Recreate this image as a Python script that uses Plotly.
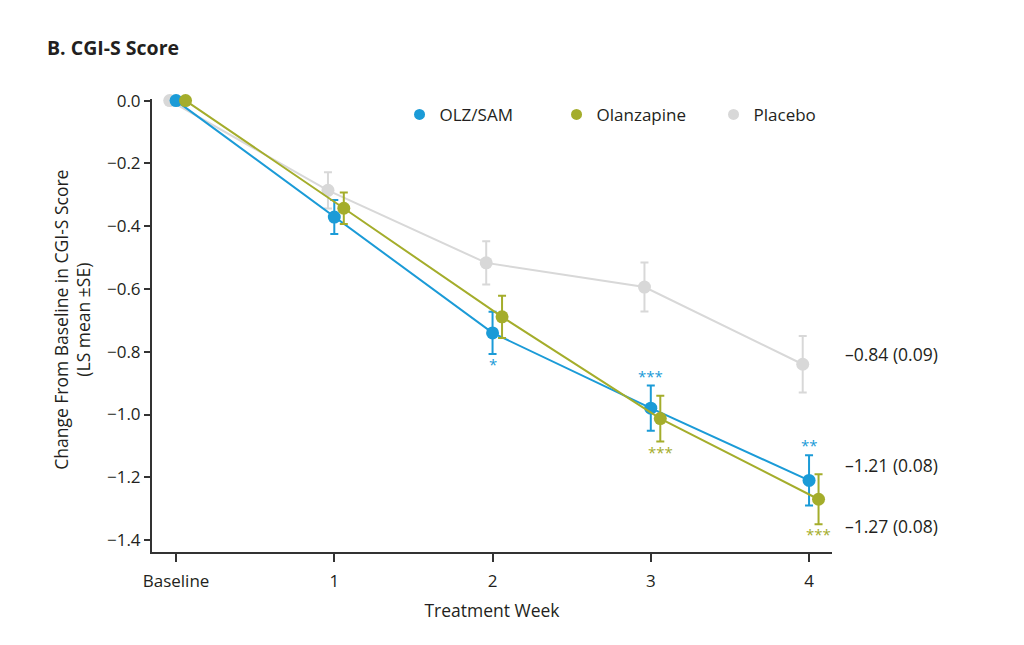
import plotly.graph_objects as go

# Data
weeks = [0, 1, 2, 3, 4]
week_labels = ["Baseline", "1", "2", "3", "4"]

olz_sam_mean = [0.0, -0.371, -0.740, -0.980, -1.21]
olz_sam_se = [0.0, 0.054, 0.067, 0.072, 0.08]

olanzapine_mean = [0.0, -0.343, -0.689, -1.013, -1.27]
olanzapine_se = [0.0, 0.050, 0.067, 0.073, 0.08]

placebo_mean = [0.0, -0.286, -0.517, -0.594, -0.84]
placebo_se = [0.0, 0.058, 0.069, 0.078, 0.09]

# significance markers: (week index, label, above/below)
olz_sam_sig = [(2, "*", "below"), (3, "***", "above"), (4, "**", "above")]
olanzapine_sig = [(3, "***", "below"), (4, "***", "below")]

BLUE = "#1b9bd7"
OLIVE = "#a4ad2b"
GREY = "#d8d8d8"
TEXT = "#231f20"
FONT = "Open Sans"

series = [
    # name, means, se, colour, x offset, legend rank
    ("Placebo", placebo_mean, placebo_se, GREY, -0.04, 3),
    ("OLZ/SAM", olz_sam_mean, olz_sam_se, BLUE, 0.0, 1),
    ("Olanzapine", olanzapine_mean, olanzapine_se, OLIVE, 0.06, 2),
]

fig = go.Figure()

for name, mean, se, color, off, rank in series:
    fig.add_trace(go.Scatter(
        x=[w + off for w in weeks],
        y=mean,
        mode="lines+markers",
        line=dict(color=color, width=2),
        marker=dict(color=color, size=13),
        error_y=dict(type="data", array=se, visible=True, color=color,
                     thickness=2, width=4),
        cliponaxis=False,
        showlegend=False,
        name=name,
    ))
    # dot-only legend entry
    fig.add_trace(go.Scatter(
        x=[None], y=[None], mode="markers",
        marker=dict(color=color, size=11),
        name=name, legendrank=rank,
    ))

annotations = []

# asterisks
for sig, mean, se, color, off in [
    (olz_sam_sig, olz_sam_mean, olz_sam_se, BLUE, 0.0),
    (olanzapine_sig, olanzapine_mean, olanzapine_se, OLIVE, 0.06),
]:
    for i, label, pos in sig:
        if pos == "above":
            y = mean[i] + se[i]
            shift = 10
        else:
            y = mean[i] - se[i]
            shift = -10
        annotations.append(dict(
            x=weeks[i] + off, y=y, text=label, showarrow=False,
            xanchor="center", yanchor="middle", yshift=shift,
            font=dict(family=FONT, size=15, color=color),
        ))

# end-of-line value labels
end_label_y = [-0.806, -1.162, -1.356]
for (mean, se), ly in zip(
    [(placebo_mean, placebo_se), (olz_sam_mean, olz_sam_se),
     (olanzapine_mean, olanzapine_se)], end_label_y):
    annotations.append(dict(
        xref="paper", x=1.0156, y=ly, yref="y",
        text=f"\u2013{abs(mean[-1]):.2f} ({se[-1]:.2f})",
        showarrow=False, xanchor="left", yanchor="middle",
        font=dict(family=FONT, size=17.5, color=TEXT),
    ))

# y-axis title
annotations.append(dict(
    xref="paper", yref="paper", x=-0.118, y=0.512,
    text="Change From Baseline in CGI-S Score<br>(LS mean \u00b1SE)",
    showarrow=False, textangle=-90, xanchor="center", yanchor="middle",
    font=dict(family=FONT, size=17.5, color=TEXT),
))

# panel title
annotations.append(dict(
    xref="paper", yref="paper", x=-0.157, y=1.113,
    text="<b>B. CGI-S Score</b>", showarrow=False,
    xanchor="left", yanchor="middle",
    font=dict(family=FONT, size=19.5, color=TEXT),
))

fig.update_layout(
    width=1024, height=645,
    margin=dict(l=144, r=200, t=91, b=101),
    paper_bgcolor="white", plot_bgcolor="white",
    font=dict(family=FONT, size=17, color=TEXT),
    annotations=annotations,
    legend=dict(
        orientation="h", x=0.364, xanchor="left", y=0.965, yanchor="middle",
        entrywidth=112, entrywidthmode="pixels",
        font=dict(family=FONT, size=17, color=TEXT),
        bgcolor="rgba(0,0,0,0)",
    ),
)

fig.update_xaxes(
    range=[-0.152, 4.145],
    tickvals=weeks, ticktext=week_labels,
    showgrid=False, zeroline=False,
    showline=True, linecolor="#333333", linewidth=2,
    ticks="outside", ticklen=8, tickwidth=2, tickcolor="#333333",
    ticklabelstandoff=5,
    tickfont=dict(family=FONT, size=17, color=TEXT),
    title=dict(text="Treatment Week", standoff=13,
               font=dict(family=FONT, size=17.5, color=TEXT)),
)

fig.update_yaxes(
    range=[-1.438, 0.005],
    tickvals=[0, -0.2, -0.4, -0.6, -0.8, -1.0, -1.2, -1.4],
    tickformat=".1f",
    showgrid=False, zeroline=False,
    showline=True, linecolor="#333333", linewidth=2,
    ticks="outside", ticklen=6, tickwidth=2, tickcolor="#333333",
    tickfont=dict(family=FONT, size=17, color=TEXT),
)

fig.write_html("out.html")
